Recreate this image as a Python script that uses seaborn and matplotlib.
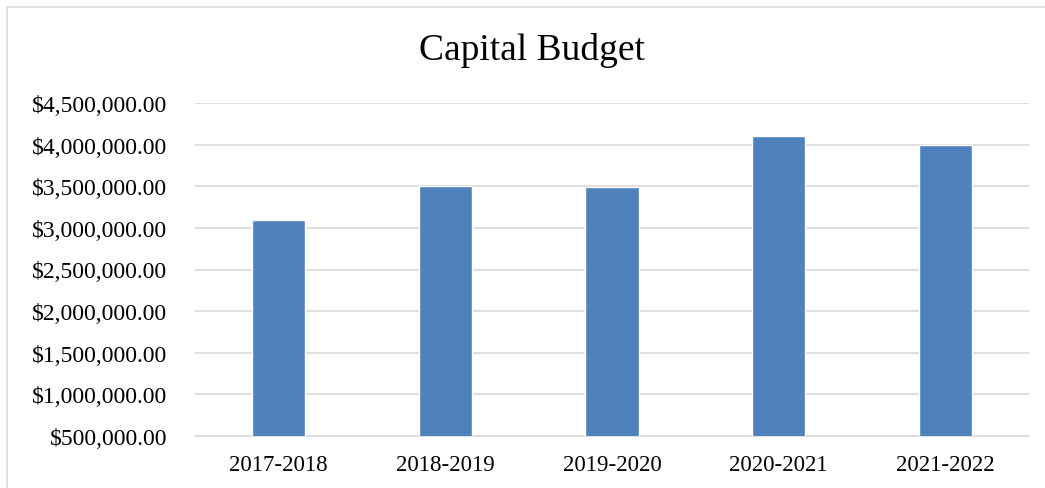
import numpy as np
import pandas as pd
import seaborn as sns
import matplotlib.pyplot as plt
from matplotlib.patches import Rectangle
from matplotlib.ticker import FuncFormatter

years = ["2017-2018", "2018-2019", "2019-2020", "2020-2021", "2021-2022"]
budget = [3100000, 3505000, 3495000, 4105000, 3990000]
y_ticks = [500000, 1000000, 1500000, 2000000, 2500000, 3000000, 3500000, 4000000, 4500000]

df = pd.DataFrame({"year": years, "budget": budget})

sns.set_theme(style="white")
plt.rcParams['font.family'] = ['Liberation Serif', 'DejaVu Serif']
plt.rcParams['text.color'] = 'black'

fig = plt.figure(figsize=(10.45, 4.89), dpi=100)
ax = fig.add_axes([195/1045, 1-437/489, (1029-195)/1045, (437-104)/489])

sns.barplot(data=df, x="year", y="budget", color="#4F81BD", saturation=1, width=0.32, ax=ax, zorder=3)

ax.set_ylim(500000, 4500000)
ax.set_yticks(y_ticks)
ax.yaxis.set_major_formatter(FuncFormatter(lambda v, p: "${:,.2f}".format(v)))
ax.grid(axis="y", color="#d9d9d9", linewidth=1.2, zorder=0)
ax.set_axisbelow(True)
for s in ["top", "right", "left"]:
    ax.spines[s].set_visible(False)
ax.spines["bottom"].set_color("#d9d9d9")
ax.spines["bottom"].set_linewidth(1.2)
ax.set_xlabel("")
ax.set_ylabel("")
ax.tick_params(axis="y", length=0, pad=20, labelsize=17, colors="black")
ax.tick_params(axis="x", length=0, pad=13, labelsize=16.5, colors="black")

fig.text(532/1045, 1-51/489, "Capital Budget", ha="center", va="center", fontsize=27, color="black")

# chart border
fig.patches.append(Rectangle((7/1045, -0.05), 1.1, 1.05-8/489, transform=fig.transFigure,
                             fill=False, edgecolor="#d9d9d9", linewidth=1.2, clip_on=False))

fig.savefig("out.png", dpi=100)
